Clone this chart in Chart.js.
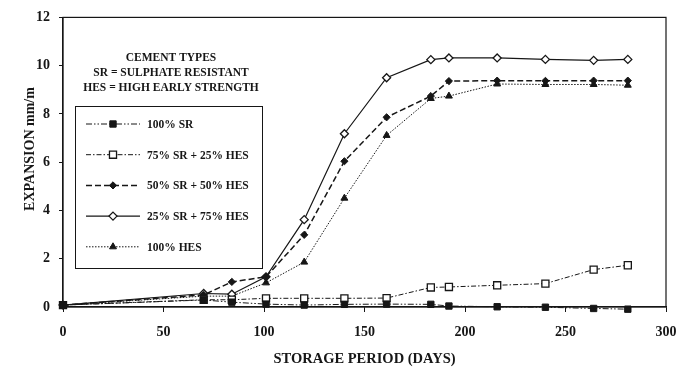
<!DOCTYPE html>
<html>
<head>
<meta charset="utf-8">
<script src="https://cdn.jsdelivr.net/npm/chart.js@4.4.0/dist/chart.umd.min.js"></script>
<style>
    html, body { margin: 0; padding: 0; background: #fff; }
    #wrap { width: 693px; height: 370px; position: relative; }
</style>
</head>
<body>
<div id="wrap"><canvas id="expansionChart"></canvas></div>
<script>
// storage period (days) and expansion (mm/m)
const days = [0, 70, 84, 101, 120, 140, 161, 183, 192, 216, 240, 264, 281];

const sr100 = [0.08, 0.29, 0.2, 0.12, 0.08, 0.11, 0.12, 0.11, 0.04, 0.01, -0.01, -0.06, -0.09];
const sr75hes25 = [0.08, 0.3, 0.3, 0.36, 0.36, 0.36, 0.37, 0.81, 0.83, 0.9, 0.97, 1.55, 1.73];
const sr50hes50 = [0.08, 0.5, 1.04, 1.25, 2.99, 6.04, 7.86, 8.74, 9.36, 9.38, 9.37, 9.38, 9.38];
const sr25hes75 = [0.08, 0.56, 0.53, 1.25, 3.62, 7.18, 9.5, 10.25, 10.32, 10.32, 10.26, 10.22, 10.26];
const hes100 = [0.08, 0.45, 0.45, 1.0, 1.86, 4.51, 7.11, 8.64, 8.74, 9.24, 9.22, 9.22, 9.19];

const seriesLabels = ['100% SR', '75% SR + 25% HES', '50% SR + 50% HES', '25% SR + 75% HES', '100% HES'];
const legendHeader = ['CEMENT TYPES', 'SR = SULPHATE RESISTANT', 'HES = HIGH EARLY STRENGTH'];
const yTitle = 'EXPANSION mm/m';

const xTicks = [0, 50, 100, 150, 200, 250, 300];
const yTicks = [0, 2, 4, 6, 8, 10, 12];

const SERIF = '"Liberation Serif", "DejaVu Serif", serif';
const INK = '#161616';

function pts(values) {
    return days.map((d, i) => ({ x: d, y: values[i] }));
}

const datasets = [
    { label: seriesLabels[0], data: pts(sr100), borderDash: [6, 2, 1.5, 2, 1.5, 2], borderWidth: 1,
      pointStyle: 'rect', pointRadius: 4.5, pointBackgroundColor: INK, pointBorderWidth: 1 },
    { label: seriesLabels[1], data: pts(sr75hes25), borderDash: [5, 2, 1.5, 2], borderWidth: 1,
      pointStyle: 'rect', pointRadius: 5, pointBackgroundColor: '#fff', pointBorderWidth: 1.3 },
    { label: seriesLabels[2], data: pts(sr50hes50), borderDash: [6, 3], borderWidth: 1.5,
      pointStyle: 'rectRot', pointRadius: 3.6, pointBackgroundColor: INK, pointBorderWidth: 1 },
    { label: seriesLabels[3], data: pts(sr25hes75), borderDash: [], borderWidth: 1.2,
      pointStyle: 'rectRot', pointRadius: 4, pointBackgroundColor: '#fff', pointBorderWidth: 1.3 },
    { label: seriesLabels[4], data: pts(hes100), borderDash: [1.5, 1.5], borderWidth: 1,
      pointStyle: 'triangle', pointRadius: 4, pointBackgroundColor: INK, pointBorderWidth: 1 }
].map(ds => Object.assign({
    borderColor: INK,
    pointBorderColor: INK,
    fill: false,
    tension: 0,
    clip: false
}, ds));

// legend marker (own drawing so the box can sit inside the plot)
function drawMarker(ctx, style, x, y, r, fillColor, lw) {
    ctx.save();
    ctx.setLineDash([]);
    ctx.lineWidth = lw;
    ctx.strokeStyle = INK;
    ctx.fillStyle = fillColor;
    ctx.beginPath();
    if (style === 'rect') {
        const s = r / Math.SQRT2;
        ctx.rect(x - s, y - s, 2 * s, 2 * s);
    } else if (style === 'rectRot') {
        ctx.moveTo(x, y - r);
        ctx.lineTo(x + r, y);
        ctx.lineTo(x, y + r);
        ctx.lineTo(x - r, y);
        ctx.closePath();
    } else {
        ctx.moveTo(x, y - r);
        ctx.lineTo(x + r * 0.866, y + r * 0.5);
        ctx.lineTo(x - r * 0.866, y + r * 0.5);
        ctx.closePath();
    }
    ctx.fill();
    ctx.stroke();
    ctx.restore();
}

const boxAndLegend = {
    id: 'boxAndLegend',
    afterDatasetsDraw(chart) {
        const { ctx, chartArea } = chart;
        ctx.save();

        // frame round the plot
        ctx.strokeStyle = INK;
        ctx.lineWidth = 1.2;
        ctx.strokeRect(chartArea.left, chartArea.top, chartArea.right - chartArea.left, chartArea.bottom - chartArea.top);

        // y axis title, a bit above the middle like the original
        ctx.save();
        ctx.translate(30, 149);
        ctx.rotate(-Math.PI / 2);
        ctx.fillStyle = INK;
        ctx.font = 'bold 14px ' + SERIF;
        ctx.textAlign = 'center';
        ctx.textBaseline = 'middle';
        ctx.fillText(yTitle, 0, 0);
        ctx.restore();

        // header text
        ctx.fillStyle = INK;
        ctx.font = 'bold 11.5px ' + SERIF;
        ctx.textAlign = 'center';
        ctx.textBaseline = 'middle';
        legendHeader.forEach((t, i) => ctx.fillText(t, 171, 58 + i * 15));

        // legend box
        ctx.fillStyle = '#fff';
        ctx.fillRect(75, 106, 187, 162);
        ctx.strokeStyle = INK;
        ctx.lineWidth = 1;
        ctx.strokeRect(75.5, 106.5, 187, 162);

        chart.data.datasets.forEach((ds, i) => {
            const y = 124 + i * 30.7;
            ctx.save();
            ctx.strokeStyle = INK;
            ctx.lineWidth = ds.borderWidth;
            ctx.setLineDash(ds.borderDash);
            ctx.beginPath();
            ctx.moveTo(86, y);
            ctx.lineTo(140, y);
            ctx.stroke();
            ctx.restore();
            drawMarker(ctx, ds.pointStyle, 113, y, ds.pointRadius, ds.pointBackgroundColor, ds.pointBorderWidth);

            ctx.fillStyle = INK;
            ctx.font = 'bold 11.5px ' + SERIF;
            ctx.textAlign = 'left';
            ctx.textBaseline = 'middle';
            ctx.fillText(ds.label, 147, y + 1);
        });
        ctx.restore();
    }
};

const ctx = document.getElementById('expansionChart').getContext('2d');

new Chart(ctx, {
    type: 'line',
    data: { datasets: datasets },
    options: {
        responsive: true,
        maintainAspectRatio: false,
        animation: false,
        layout: { padding: { left: 0, right: 27, top: 15, bottom: 0 } },
        plugins: {
            legend: { display: false },
            tooltip: { enabled: false }
        },
        scales: {
            x: {
                type: 'linear',
                min: 0,
                max: 300,
                afterBuildTicks: scale => { scale.ticks = xTicks.map(v => ({ value: v })); },
                afterFit: scale => { scale.height = 63; },
                border: { color: INK, width: 1.2 },
                grid: { drawOnChartArea: false, tickLength: 5, color: INK },
                ticks: {
                    color: INK,
                    padding: 12,
                    maxRotation: 0,
                    font: { family: SERIF, size: 14, weight: 'bold' }
                },
                title: {
                    display: true,
                    text: 'STORAGE PERIOD (DAYS)',
                    color: INK,
                    padding: { top: 0, bottom: 2 },
                    font: { family: SERIF, size: 14.5, weight: 'bold' }
                }
            },
            y: {
                min: 0,
                max: 12,
                afterBuildTicks: scale => { scale.ticks = yTicks.map(v => ({ value: v })); },
                afterFit: scale => { scale.width = 63; },
                border: { color: INK, width: 1.2 },
                grid: { drawOnChartArea: false, tickLength: 4, color: INK },
                ticks: {
                    color: INK,
                    padding: 9,
                    font: { family: SERIF, size: 14, weight: 'bold' }
                }
            }
        }
    },
    plugins: [boxAndLegend]
});
</script>
</body>
</html>
